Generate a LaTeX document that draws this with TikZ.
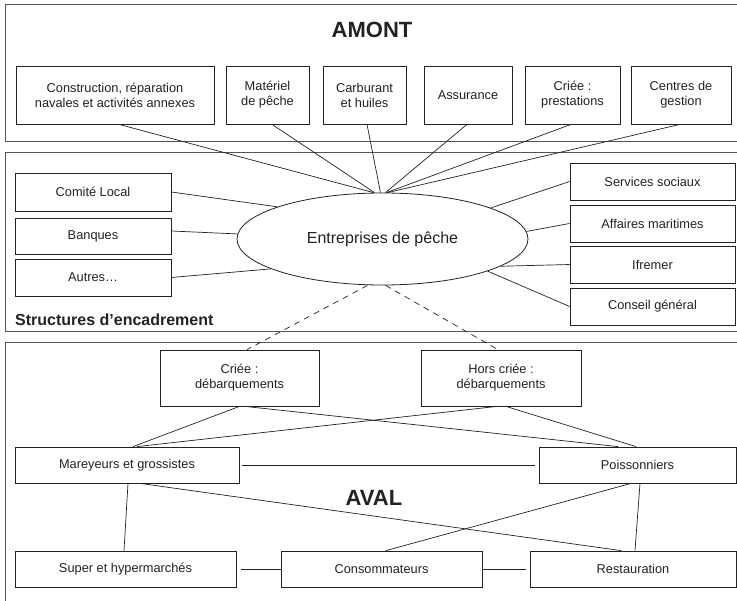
\documentclass[tikz,border=0pt]{standalone}
\usepackage{fontspec}
\setmainfont{Liberation Sans}
\usetikzlibrary{shapes.geometric}
\definecolor{ink}{HTML}{222222}
\definecolor{frame}{HTML}{555555}
\tikzset{
  box/.style={draw=ink, line width=0.8pt, inner sep=0pt, align=center, text=ink,
    font=\fontsize{12.8}{15}\selectfont, minimum height=36pt},
  tbox/.style={box, minimum height=58pt},
  conn/.style={draw=ink, line width=0.7pt},
  dconn/.style={conn, dash pattern=on 6pt off 5pt},
  frm/.style={draw=frame, line width=1pt},
  ttl/.style={font=\fontsize{22}{24}\selectfont\bfseries, text=ink, inner sep=0pt}
}
\begin{document}
\begin{tikzpicture}[x=1pt,y=-1pt]
\useasboundingbox (0,0) rectangle (737,601);
\begin{scope}
\clip (0,0) rectangle (737,601);
\draw[frm] (5,5) rectangle (760,142);
\draw[frm] (5,153) rectangle (760,332);
\draw[frm] (5,343) rectangle (760,640);
\end{scope}

% titles
\node[ttl] (amont) at (372,30) {AMONT};
\node[ttl] (aval) at (374,498) {AVAL};
\node[ttl, font=\fontsize{16}{18}\selectfont\bfseries, anchor=west] (struct) at (15,320) {Structures d’encadrement};

% top boxes
\node[tbox, minimum width=198pt] (co) at (115,95) {Construction, réparation\\navales et activités annexes};
\node[tbox, minimum width=83pt] (ma) at (267.5,95) {Matériel\\de pêche};
\node[tbox, minimum width=83pt] (ca) at (364.5,95) {Carburant\\et huiles};
\node[tbox, minimum width=88pt] (as) at (468,95) {Assurance};
\node[tbox, minimum width=95pt] (cp) at (572.5,95) {Criée :\\prestations};
\node[tbox, minimum width=100pt] (cg) at (681,95) {Centres de\\gestion};

% middle
\node[draw=ink, line width=0.8pt, ellipse, minimum width=291pt, minimum height=92pt, inner sep=0pt,
  text=ink, font=\fontsize{16}{18}\selectfont] (ell) at (382.5,239) {Entreprises de pêche};
\node[box, minimum width=156pt, minimum height=38pt] (cl) at (93,192) {Comité Local};
\node[box, minimum width=156pt] (bq) at (93,236) {Banques};
\node[box, minimum width=156pt, minimum height=37pt] (au) at (93,277.5) {Autres…};
\node[box, minimum width=165pt, minimum height=37pt] (ss) at (652.5,181.5) {Services sociaux};
\node[box, minimum width=165pt, minimum height=37pt] (am) at (652.5,223.5) {Affaires maritimes};
\node[box, minimum width=165pt, minimum height=37pt] (if) at (652.5,264.5) {Ifremer};
\node[box, minimum width=165pt, minimum height=37pt] (cgl) at (652.5,306.5) {Conseil général};

% bottom
\node[tbox, minimum width=159pt, minimum height=56pt] (cd) at (239.5,378) {Criée :\\débarquements};
\node[tbox, minimum width=160pt, minimum height=56pt] (hc) at (501,378) {Hors criée :\\débarquements};
\node[box, minimum width=224pt] (mg) at (127,465) {Mareyeurs et grossistes};
\node[box, minimum width=197pt] (po) at (637.5,465) {Poissonniers};
\node[box, minimum width=221pt] (sh) at (125.5,569) {Super et hypermarchés};
\node[box, minimum width=201pt] (cs) at (381.5,569) {Consommateurs};
\node[box, minimum width=206pt] (rs) at (633,569) {Restauration};

% top connectors
\draw[conn] ([xshift=4]co.south) -- ([xshift=-9]ell.north);
\draw[conn] ([xshift=4.5]ma.south) -- ([xshift=-8]ell.north);
\draw[conn] ([xshift=2.5]ca.south) -- ([xshift=-2]ell.north);
\draw[conn] ([xshift=-1]as.south) -- ([xshift=3]ell.north);
\draw[conn] ([xshift=-1.5]cp.south) -- ([xshift=4]ell.north);
\draw[conn] ([xshift=-1]cg.south) -- ([xshift=5]ell.north);

% side connectors
\draw[conn] (cl.east) -- (ell.163);
\draw[conn] ([yshift=5]bq.east) -- (ell.178);
\draw[conn] (au.east) -- (ell.195);
\draw[conn] (ss.west) -- (ell.16);
\draw[conn] (am.west) -- (ell.3);
\draw[conn] (if.west) -- (ell.-13);
\draw[conn] (cgl.west) -- (ell.-17);

% dashed
\draw[dconn] ([xshift=-15]ell.south) -- ([xshift=7.5]cd.north);
\draw[dconn] ([xshift=3]ell.south) -- ([xshift=-3]hc.north);

% bottom connectors
\draw[conn] (cd.south) -- ([xshift=6]mg.north);
\draw[conn] ([xshift=5.5]cd.south) -- ([xshift=-19.5]po.north);
\draw[conn] ([xshift=-4]hc.south) -- ([xshift=10]mg.north);
\draw[conn] ([xshift=5]hc.south) -- ([xshift=-1.5]po.north);
\draw[conn] ([xshift=3]mg.east) -- ([xshift=-4]po.west);
\draw[conn] ([xshift=13]mg.south) -- ([xshift=-12]rs.north);
\draw[conn] ([xshift=1]mg.south) -- ([xshift=-1.5]sh.north);
\draw[conn] ([xshift=-6.5]po.south) -- ([xshift=4.5]cs.north);
\draw[conn] ([xshift=2.5]po.south) -- ([xshift=2]rs.north);
\draw[conn] ([xshift=5]sh.east) -- (cs.west);
\draw[conn] (cs.east) -- ([xshift=-4]rs.west);
\end{tikzpicture}
\end{document}
